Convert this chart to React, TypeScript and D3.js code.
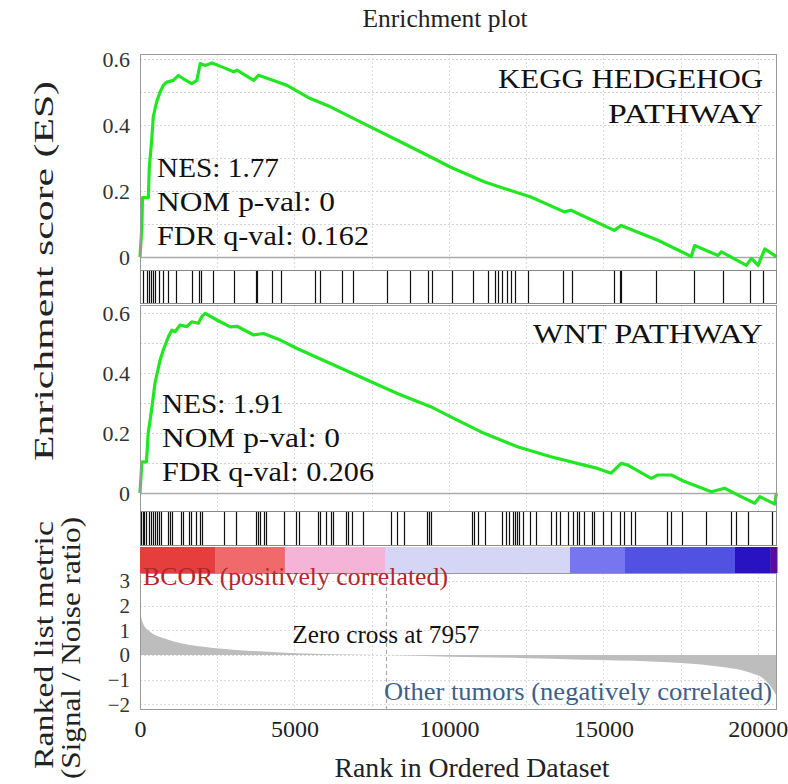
import React from 'react';
import * as d3 from 'd3';

const WIDTH = 788;
const HEIGHT = 784;
const FONT = '"Liberation Serif", "Times New Roman", serif';

// running enrichment score, KEGG hedgehog pathway (rank, ES)
const hedgehogRanks = [0, 60, 80, 270, 300, 380, 430, 540, 650, 755, 865, 1080, 1245, 1405, 1675, 1840, 1950, 2110, 2325, 2650, 3030, 3140, 3680, 3840, 4435, 4760, 5515, 6165, 7245, 8330, 9410, 10060, 11140, 11790, 12655, 13735, 13950, 15355, 15575, 16765, 17845, 17955, 18710, 18820, 19630, 19790, 20010, 20225, 20620];
const hedgehogScores = [0, 0.09, 0.18, 0.18, 0.27, 0.355, 0.425, 0.47, 0.5, 0.52, 0.53, 0.535, 0.55, 0.54, 0.525, 0.535, 0.586, 0.58, 0.588, 0.576, 0.561, 0.566, 0.535, 0.551, 0.531, 0.52, 0.48, 0.455, 0.404, 0.354, 0.303, 0.272, 0.228, 0.208, 0.182, 0.137, 0.142, 0.081, 0.096, 0.051, 0.002, 0.035, 0.005, 0.016, -0.025, -0.004, -0.025, 0.025, 0.0];

// running enrichment score, WNT pathway
const wntRanks = [0, 60, 210, 265, 375, 485, 650, 755, 920, 1030, 1135, 1300, 1515, 1675, 1890, 2000, 2110, 2490, 2920, 3140, 3680, 4000, 4540, 5085, 6165, 7245, 8330, 9410, 10060, 11140, 12220, 13300, 14380, 14815, 15250, 15575, 15790, 16550, 16765, 17200, 17630, 18495, 18710, 18925, 19360, 19900, 20065, 20550, 20600];
const wntScores = [0, 0.104, 0.104, 0.199, 0.277, 0.366, 0.443, 0.477, 0.521, 0.543, 0.538, 0.56, 0.555, 0.571, 0.566, 0.588, 0.599, 0.577, 0.554, 0.556, 0.527, 0.532, 0.51, 0.482, 0.432, 0.382, 0.332, 0.288, 0.254, 0.199, 0.154, 0.121, 0.093, 0.082, 0.066, 0.099, 0.093, 0.049, 0.06, 0.06, 0.038, 0.004, 0.01, 0.016, -0.007, -0.034, -0.012, -0.037, 0.0];

// gene set member positions in the ranked list
const hedgehogHits = [84, 221, 289, 357, 422, 493, 600, 736, 902, 1175, 1691, 1921, 1963, 2372, 3053, 3760, 3790, 4277, 4549, 5666, 5831, 6551, 6892, 7983, 8729, 9317, 9453, 10092, 10773, 11251, 11494, 11592, 11727, 11864, 12000, 12136, 12545, 13700, 13973, 15336, 15540, 15570, 16699, 17922, 18876, 19762, 20171];
const wntHits = [40, 90, 140, 208, 279, 347, 415, 487, 555, 623, 694, 902, 970, 1041, 1317, 1389, 1596, 1664, 1804, 1943, 2011, 2706, 3121, 3744, 3816, 3884, 4024, 4092, 4646, 5061, 5133, 5756, 5827, 6035, 6171, 6243, 6658, 6726, 6865, 7213, 8115, 8322, 8530, 9292, 9364, 9432, 10749, 10820, 10957, 11164, 11719, 11859, 11930, 12066, 12138, 12206, 12274, 12414, 12621, 12829, 13316, 13455, 13591, 13870, 14010, 14146, 14217, 14357, 14633, 14704, 14980, 15259, 15535, 15674, 15882, 16021, 17059, 17199, 17546, 18308, 19139, 19279, 19694, 20460];

// ranked list metric (signal to noise)
const metricRanks = [0, 40, 110, 325, 750, 1300, 1840, 2920, 4000, 5085, 6700, 7957, 10000, 12220, 14380, 16550, 18710, 19790, 20220, 20490, 20620];
const metricValues = [1.72, 1.5, 1.25, 0.95, 0.69, 0.49, 0.37, 0.23, 0.14, 0.07, 0.02, 0, -0.07, -0.12, -0.19, -0.26, -0.46, -0.73, -1.0, -1.41, -1.7];

// heat bar bands
const bandStarts = [0, 2430, 4690, 7930, 13920, 15700, 19260, 20400];
const bandColors = ['#e63d3d', '#f06a6c', '#f5b3d8', '#d5d5f6', '#7676ee', '#5252e2', '#2812c2', '#5a0c9e'];

const N_GENES = 20620;
const ZERO_CROSS = 7957;
const xTicks = [0, 5000, 10000, 15000, 20000];
const xGrid = [2500, 5000, 7500, 10000, 12500, 15000, 17500, 20000];
const esTicks = [0, 0.2, 0.4, 0.6];
const esGrid = [0.1, 0.2, 0.3, 0.4, 0.5, 0.6];
const metricTicks = [-2, -1, 0, 1, 2, 3];

const hedgehogTitle = ['KEGG HEDGEHOG', 'PATHWAY'];
const hedgehogStats = ['NES: 1.77', 'NOM p-val: 0', 'FDR q-val: 0.162'];
const wntTitle = ['WNT PATHWAY'];
const wntStats = ['NES: 1.91', 'NOM p-val: 0', 'FDR q-val: 0.206'];

// rendered widths of the annotations, so Liberation Serif spans like the original face
const hedgehogTitleWidths = [265, 155];
const wntTitleWidths = [230];
const statWidths = [122, 178, 212];

/**
 * GSEA style enrichment plot with two gene sets.
 */
class App extends React.Component {
  svgRef = React.createRef<SVGSVGElement>();

  componentDidMount() {
    this.createChart();
  }

  componentDidUpdate() {
    this.createChart();
  }

  createChart() {
    const svg = d3.select(this.svgRef.current);
    svg.selectAll('*').remove();

    const left = 140;
    const right = 777;
    const x = d3.scaleLinear().domain([0, N_GENES]).range([left, right]);

    const es1 = d3.scaleLinear().domain([-0.039, 0.615]).range([270, 54]);
    const es2 = d3.scaleLinear().domain([-0.06, 0.627]).range([511, 305]);
    const ym = d3.scaleLinear().domain([-2.23, 3.33]).range([710, 573]);

    const label = (g, str, tx, ty, size, width, anchor = 'start', color = '#111') => {
      const t = g.append('text').attr('x', tx).attr('y', ty).attr('text-anchor', anchor)
        .attr('font-size', size).attr('font-family', FONT).attr('fill', color).text(str);
      if (width) t.attr('textLength', width).attr('lengthAdjust', 'spacingAndGlyphs');
      return t;
    };

    const drawPanel = (y, ranks, scores, title, titleWidths, stats, statX, statY, titleY) => {
      const [y1, y0] = y.range();
      const g = svg.append('g');
      g.append('rect').attr('x', left).attr('y', y0).attr('width', right - left).attr('height', y1 - y0)
        .attr('fill', '#fff');
      g.selectAll('line.hgrid').data(esGrid).join('line')
        .attr('x1', left).attr('x2', right)
        .attr('y1', (d) => Math.round(y(d)) + 0.5).attr('y2', (d) => Math.round(y(d)) + 0.5)
        .attr('stroke', '#d4d4d4').attr('stroke-dasharray', '2,2');
      g.selectAll('line.vgrid').data(xGrid).join('line')
        .attr('x1', (d) => Math.round(x(d)) + 0.5).attr('x2', (d) => Math.round(x(d)) + 0.5)
        .attr('y1', y0).attr('y2', y1)
        .attr('stroke', '#dcdcdc').attr('stroke-dasharray', '2,2');
      g.append('line').attr('x1', left).attr('x2', right)
        .attr('y1', Math.round(y(0)) + 0.5).attr('y2', Math.round(y(0)) + 0.5)
        .attr('stroke', '#aaa').attr('stroke-width', 1.3);

      const line = d3.line().x((d) => x(d[0])).y((d) => y(d[1]));
      g.append('path').datum(ranks.map((r, i) => [r, scores[i]]))
        .attr('d', line).attr('fill', 'none').attr('stroke', '#22e622')
        .attr('stroke-width', 3.2).attr('stroke-linejoin', 'round');

      g.append('rect').attr('x', left + 0.5).attr('y', y0 + 0.5).attr('width', right - left - 1)
        .attr('height', y1 - y0).attr('fill', 'none').attr('stroke', '#999');

      title.forEach((s, i) => label(g, s, 763, titleY + i * 34.5, 27, titleWidths[i], 'end'));
      stats.forEach((s, i) => label(g, s, statX, statY + i * 34.2, 27.5, statWidths[i]));

      const axis = d3.axisLeft(y).tickValues(esTicks).tickSize(0).tickPadding(10)
        .tickFormat((d) => (d === 0 ? '0' : d3.format('.1f')(d)));
      svg.append('g').attr('transform', `translate(${left},0)`).call(axis)
        .call((a) => a.select('.domain').remove())
        .selectAll('text').attr('font-size', 22).attr('font-family', FONT).attr('fill', '#333');
    };

    const drawHits = (hits, y0, y1) => {
      const g = svg.append('g');
      g.append('rect').attr('x', left).attr('y', y0).attr('width', right - left).attr('height', y1 - y0)
        .attr('fill', '#fff');
      g.selectAll('line').data(hits).join('line')
        .attr('x1', (d) => Math.round(x(d)) + 0.5).attr('x2', (d) => Math.round(x(d)) + 0.5)
        .attr('y1', y0).attr('y2', y1).attr('stroke', '#111').attr('stroke-width', 1.2);
      g.append('rect').attr('x', left + 0.5).attr('y', y0 + 0.5).attr('width', right - left - 1)
        .attr('height', y1 - y0 - 1).attr('fill', 'none').attr('stroke', '#888');
    };

    drawPanel(es1, hedgehogRanks, hedgehogScores, hedgehogTitle, hedgehogTitleWidths, hedgehogStats, 157, 177, 88);
    drawHits(hedgehogHits, 270, 304);
    drawPanel(es2, wntRanks, wntScores, wntTitle, wntTitleWidths, wntStats, 162, 413, 343);
    drawHits(wntHits, 511, 546);

    // heat bar
    const bands = svg.append('g');
    bands.selectAll('rect').data(bandStarts).join('rect')
      .attr('x', (d) => x(d))
      .attr('width', (d, i) => x(i < bandStarts.length - 1 ? bandStarts[i + 1] : N_GENES) - x(d) + 0.5)
      .attr('y', 547).attr('height', 26)
      .attr('fill', (d, i) => bandColors[i]);

    // ranked list metric panel
    const [m1, m0] = ym.range();
    const mg = svg.append('g');
    mg.append('rect').attr('x', left).attr('y', m0).attr('width', right - left).attr('height', m1 - m0)
      .attr('fill', '#fff');
    mg.selectAll('line.hgrid').data(metricTicks).join('line')
      .attr('x1', left).attr('x2', right)
      .attr('y1', (d) => Math.round(ym(d)) + 0.5).attr('y2', (d) => Math.round(ym(d)) + 0.5)
      .attr('stroke', '#dadada').attr('stroke-dasharray', '2,2');
    mg.selectAll('line.vgrid').data(xGrid).join('line')
      .attr('x1', (d) => Math.round(x(d)) + 0.5).attr('x2', (d) => Math.round(x(d)) + 0.5)
      .attr('y1', m0).attr('y2', m1)
      .attr('stroke', '#dcdcdc').attr('stroke-dasharray', '2,2');

    const area = d3.area().x((d) => x(d[0])).y0(ym(0)).y1((d) => ym(d[1])).curve(d3.curveMonotoneX);
    mg.append('path').datum(metricRanks.map((r, i) => [r, metricValues[i]]))
      .attr('d', area).attr('fill', '#bdbdbd');

    mg.append('line')
      .attr('x1', Math.round(x(ZERO_CROSS)) + 0.5).attr('x2', Math.round(x(ZERO_CROSS)) + 0.5)
      .attr('y1', m0).attr('y2', m1)
      .attr('stroke', '#aaa').attr('stroke-width', 1.2).attr('stroke-dasharray', '4,3');

    mg.append('rect').attr('x', left + 0.5).attr('y', m0 + 0.5).attr('width', right - left - 1)
      .attr('height', m1 - m0 - 1).attr('fill', 'none').attr('stroke', '#999');

    label(mg, 'BCOR (positively correlated)', 143, 585, 25.5, 305, 'start', '#b3262b');
    label(mg, `Zero cross at ${ZERO_CROSS}`, x(ZERO_CROSS), 643, 25, 187, 'middle');
    label(mg, 'Other tumors (negatively correlated)', 772, 700, 25, 388, 'end', '#3f5f86');

    svg.append('g').attr('transform', `translate(${left},0)`)
      .call(d3.axisLeft(ym).tickValues(metricTicks).tickSize(0).tickPadding(10).tickFormat(d3.format('d')))
      .call((a) => a.select('.domain').remove())
      .selectAll('text').attr('font-size', 21).attr('font-family', FONT).attr('fill', '#333');

    svg.append('g').attr('transform', `translate(0,${m1})`)
      .call(d3.axisBottom(x).tickValues(xTicks).tickSize(0).tickPadding(10).tickFormat(d3.format('d')))
      .call((a) => a.select('.domain').remove())
      .selectAll('text').attr('font-size', 24).attr('font-family', FONT).attr('fill', '#222');

    // titles
    label(svg, 'Enrichment plot', 445, 27, 26, 165, 'middle', '#222');
    label(svg, 'Rank in Ordered Dataset', 472, 777, 27.5, 275, 'middle', '#222');
    label(svg, 'Enrichment score (ES)', 0, 0, 28, 380, 'middle', '#222')
      .attr('transform', 'translate(53,271) rotate(-90)');
    label(svg, 'Ranked list metric', 0, 0, 28, 248, 'middle', '#222')
      .attr('transform', 'translate(53,645) rotate(-90)');
    label(svg, '(Signal / Noise ratio)', 0, 0, 28, 262, 'middle', '#222')
      .attr('transform', 'translate(80,648) rotate(-90)');
  }

  render() {
    return (
      <svg ref={this.svgRef} width={WIDTH} height={HEIGHT}
        style={{ position: 'absolute', left: 0, top: 0, background: '#fff' }} />
    );
  }
}

export default App;
